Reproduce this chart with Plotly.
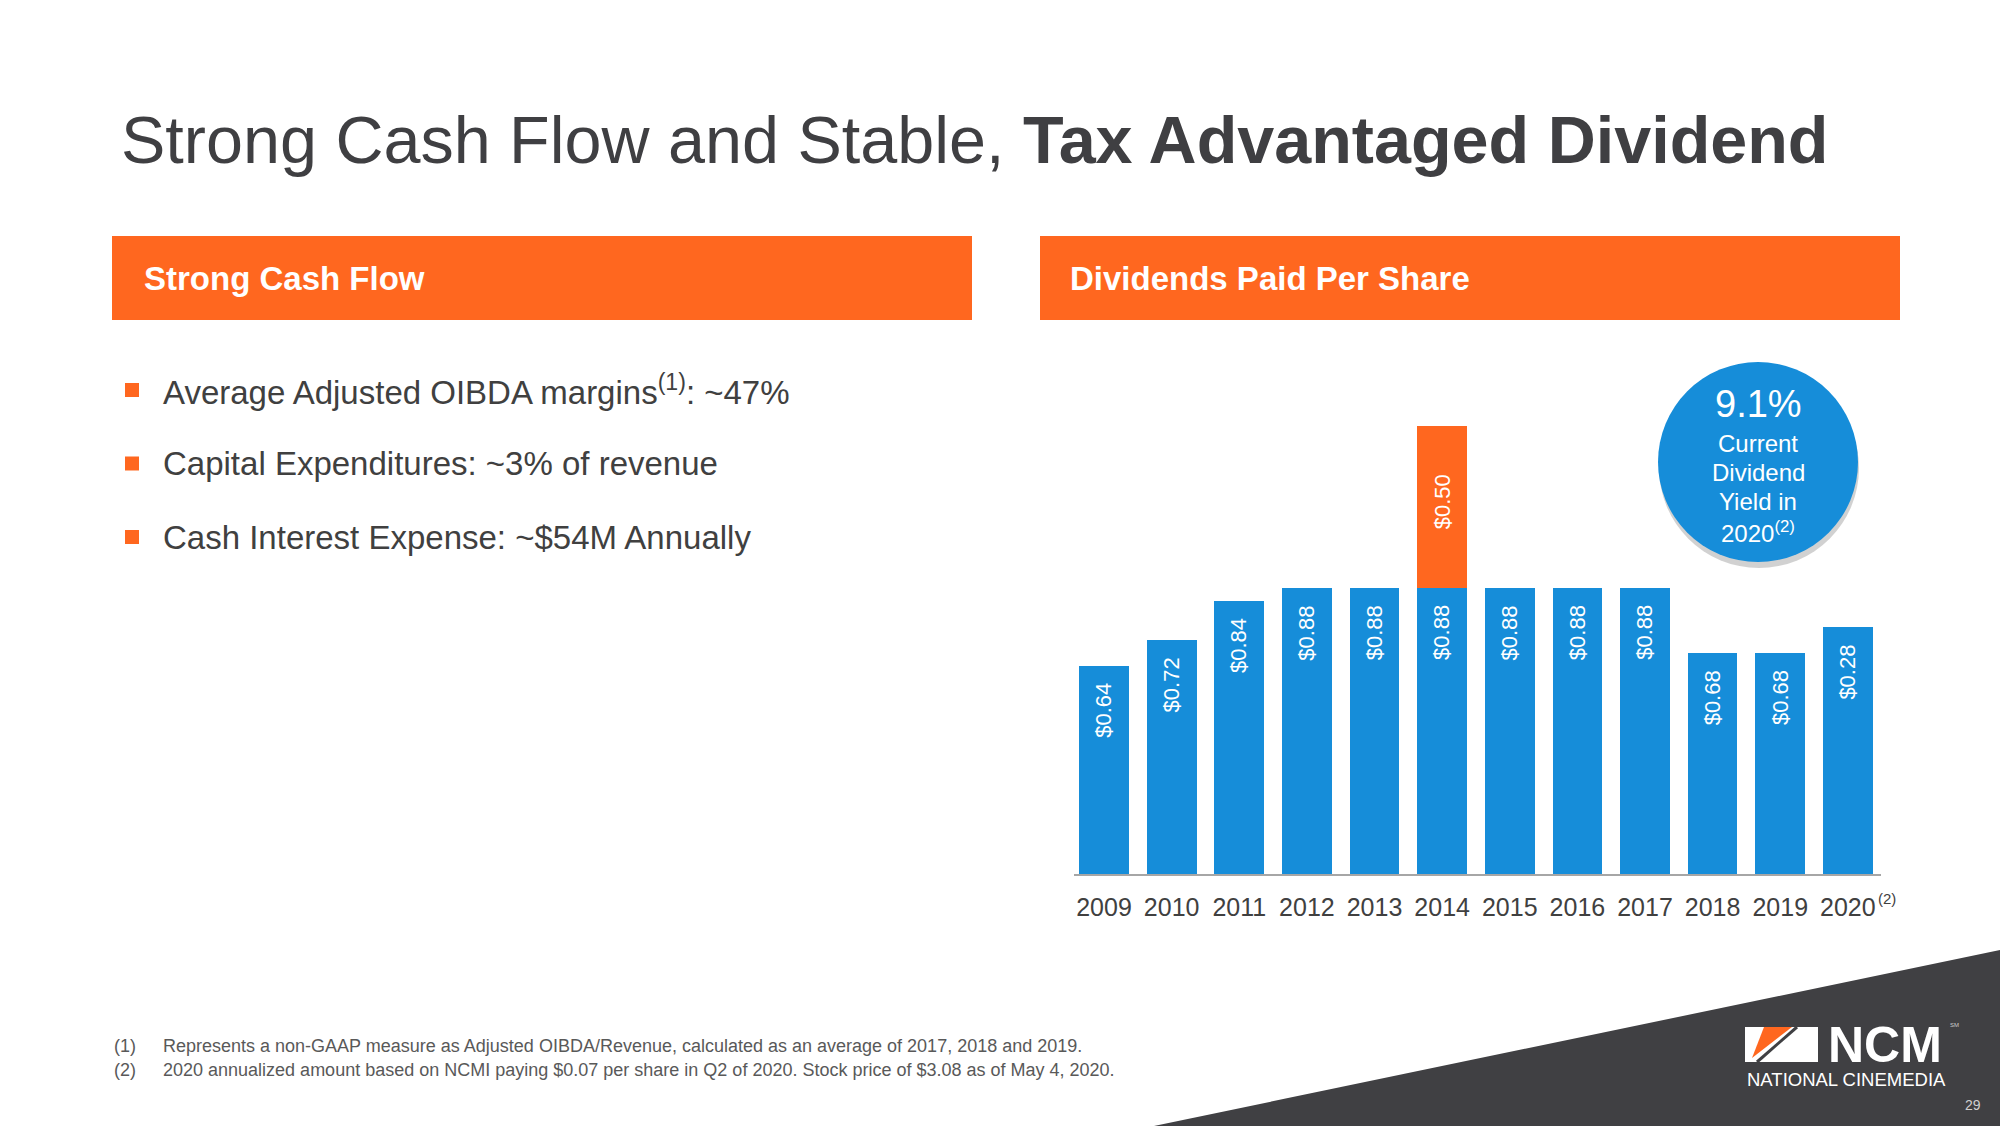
import plotly.graph_objects as go

# ---------------- data ----------------
years = ["2009", "2010", "2011", "2012", "2013", "2014", "2015", "2016", "2017", "2018", "2019", "2020"]
year_ticks = ["2009", "2010", "2011", "2012", "2013", "2014", "2015", "2016", "2017", "2018", "2019", "2020"]
year_note = "(2)"   # superscript note after the 2020 tick
regular_div = [0.64, 0.72, 0.84, 0.88, 0.88, 0.88, 0.88, 0.88, 0.88, 0.68, 0.68, 0.76]
regular_labels = ["$0.64", "$0.72", "$0.84", "$0.88", "$0.88", "$0.88", "$0.88", "$0.88", "$0.88", "$0.68", "$0.68", "$0.28"]
special_div = [None, None, None, None, None, 0.50, None, None, None, None, None, None]
special_labels = [None, None, None, None, None, "$0.50", None, None, None, None, None, None]

title_regular = "Strong Cash Flow and Stable, "
title_bold = "Tax Advantaged Dividend"
left_header = "Strong Cash Flow"
right_header = "Dividends Paid Per Share"
bullets = [
    "Average Adjusted OIBDA margins<sup>(1)</sup>: ~47%",
    "Capital Expenditures: ~3% of revenue",
    "Cash Interest Expense: ~$54M Annually",
]
footnotes = [
    ("(1)", "Represents a non-GAAP measure as Adjusted OIBDA/Revenue, calculated as an average of 2017, 2018 and 2019."),
    ("(2)", "2020 annualized amount based on NCMI paying $0.07 per share in Q2 of 2020. Stock price of $3.08 as of May 4, 2020."),
]
yield_value = "9.1%"
yield_lines = ["Current", "Dividend", "Yield in", "2020<sup>(2)</sup>"]

# ---------------- styling ----------------
W, H = 2000, 1126
FONT = "Liberation Sans, Arial, sans-serif"
BLUE = "#168DD9"
ORANGE = "#FF671F"
DARK = "#3F3F42"
TEXT = "#404040"
FOOT = "#595959"


def px(x):
    return x / W


def py(y):
    return 1 - y / H


fig = go.Figure()
fig.add_trace(go.Bar(x=years, y=regular_div, marker=dict(color=BLUE, line=dict(width=0)),
                     hoverinfo="skip", showlegend=False))
fig.add_trace(go.Bar(x=years, y=special_div, marker=dict(color=ORANGE, line=dict(width=0)),
                     hoverinfo="skip", showlegend=False))

annotations = []
shapes = []

# bar value labels (rotated, inside the bars near the top); x given as category index
for i, (v, lab) in enumerate(zip(regular_div, regular_labels)):
    annotations.append(dict(x=i, y=v, xref="x", yref="y", text=lab, textangle=-90,
                            yanchor="top", xanchor="center", yshift=-15, showarrow=False,
                            font=dict(family=FONT, size=22, color="white")))
for i, (base, v, lab) in enumerate(zip(regular_div, special_div, special_labels)):
    if v is not None:
        annotations.append(dict(x=i, y=base + v / 2, xref="x", yref="y", text=lab, textangle=-90,
                                yanchor="middle", xanchor="center", yshift=5, showarrow=False,
                                font=dict(family=FONT, size=22, color="white")))

# superscript note after the last year tick
annotations.append(dict(x=len(years) - 1, y=py(898), xref="x", yref="paper", text=year_note,
                        xanchor="left", yanchor="middle", xshift=28, showarrow=False,
                        font=dict(family=FONT, size=15, color=TEXT)))

# title
annotations.append(dict(x=px(119), y=py(140), xref="paper", yref="paper", xanchor="left", yanchor="middle",
                        text=title_regular + "<b>" + title_bold + "</b>", showarrow=False,
                        font=dict(family=FONT, size=66.5, color=DARK)))

# orange header bars
shapes.append(dict(type="rect", xref="paper", yref="paper", x0=px(112), x1=px(972), y0=py(320), y1=py(236),
                   fillcolor=ORANGE, line=dict(width=0), layer="below"))
shapes.append(dict(type="rect", xref="paper", yref="paper", x0=px(1040), x1=px(1900), y0=py(320), y1=py(236),
                   fillcolor=ORANGE, line=dict(width=0), layer="below"))
annotations.append(dict(x=px(142), y=py(279), xref="paper", yref="paper", xanchor="left", yanchor="middle",
                        text="<b>" + left_header + "</b>", showarrow=False,
                        font=dict(family=FONT, size=33, color="white")))
annotations.append(dict(x=px(1068), y=py(279), xref="paper", yref="paper", xanchor="left", yanchor="middle",
                        text="<b>" + right_header + "</b>", showarrow=False,
                        font=dict(family=FONT, size=33, color="white")))

# bullets
for i, b in enumerate(bullets):
    yc = 390 + i * 73.5
    shapes.append(dict(type="rect", xref="paper", yref="paper", x0=px(125), x1=px(139),
                       y0=py(yc + 7), y1=py(yc - 7), fillcolor=ORANGE, line=dict(width=0)))
    annotations.append(dict(x=px(161), y=py(yc), xref="paper", yref="paper", xanchor="left", yanchor="middle",
                            text=b, showarrow=False, font=dict(family=FONT, size=33, color=TEXT)))

# footnotes
for i, (n, t) in enumerate(footnotes):
    yc = 1046 + i * 24
    annotations.append(dict(x=px(112), y=py(yc), xref="paper", yref="paper", xanchor="left", yanchor="middle",
                            text=n, showarrow=False, font=dict(family=FONT, size=18, color=FOOT)))
    annotations.append(dict(x=px(161), y=py(yc), xref="paper", yref="paper", xanchor="left", yanchor="middle",
                            text=t, showarrow=False, font=dict(family=FONT, size=18, color=FOOT)))

# yield circle (shadow + circle)
cx, cy, r = 1758, 462, 100
shapes.append(dict(type="circle", xref="paper", yref="paper", x0=px(cx - r + 1), x1=px(cx + r + 1),
                   y0=py(cy + r + 6), y1=py(cy - r + 6), fillcolor="rgba(0,0,0,0.18)", line=dict(width=0)))
shapes.append(dict(type="circle", xref="paper", yref="paper", x0=px(cx - r), x1=px(cx + r),
                   y0=py(cy + r), y1=py(cy - r), fillcolor=BLUE, line=dict(width=0)))
annotations.append(dict(x=px(cx), y=py(404), xref="paper", yref="paper", xanchor="center", yanchor="middle",
                        text=yield_value, showarrow=False, font=dict(family=FONT, size=38, color="white")))
for i, t in enumerate(yield_lines):
    annotations.append(dict(x=px(cx), y=py(443 + i * 29.5), xref="paper", yref="paper", xanchor="center",
                            yanchor="middle", text=t, showarrow=False,
                            font=dict(family=FONT, size=24, color="white")))

# dark corner triangle
shapes.append(dict(type="path", xref="paper", yref="paper",
                   path=f"M {px(2000)} {py(950)} L {px(2000)} {py(1126)} L {px(1154)} {py(1126)} Z",
                   fillcolor="#404043", line=dict(width=0), layer="below"))

# NCM logo
shapes.append(dict(type="rect", xref="paper", yref="paper", x0=px(1745), x1=px(1818), y0=py(1062), y1=py(1027),
                   fillcolor="white", line=dict(width=0)))
shapes.append(dict(type="path", xref="paper", yref="paper",
                   path=f"M {px(1764)} {py(1027)} L {px(1792)} {py(1027)} L {px(1752)} {py(1058)} Z",
                   fillcolor=ORANGE, line=dict(width=0)))
shapes.append(dict(type="line", xref="paper", yref="paper", x0=px(1797), y0=py(1027), x1=px(1757), y1=py(1062),
                   line=dict(color="#404043", width=3)))
annotations.append(dict(x=px(1885), y=py(1045), xref="paper", yref="paper", xanchor="center", yanchor="middle",
                        text="<b>NCM</b>", showarrow=False, font=dict(family=FONT, size=50, color="white")))
annotations.append(dict(x=px(1948), y=py(1025), xref="paper", yref="paper", xanchor="left", yanchor="middle",
                        text="SM", showarrow=False, font=dict(family=FONT, size=6, color="#cccccc")))
annotations.append(dict(x=px(1846), y=py(1079), xref="paper", yref="paper", xanchor="center", yanchor="middle",
                        text="NATIONAL CINEMEDIA", showarrow=False, font=dict(family=FONT, size=18.5, color="white")))
annotations.append(dict(x=px(1973), y=py(1105), xref="paper", yref="paper", xanchor="center", yanchor="middle",
                        text="29", showarrow=False, font=dict(family=FONT, size=14, color="#d0d0d0")))

fig.update_layout(
    width=W, height=H, autosize=False,
    margin=dict(l=0, r=0, t=0, b=0),
    paper_bgcolor="white", plot_bgcolor="rgba(0,0,0,0)",
    barmode="stack", bargap=0.265,
    showlegend=False,
    xaxis=dict(type="category", domain=[px(1074), px(1881)], range=[-0.444, 11.49],
               tickvals=years, ticktext=year_ticks, tickangle=0, showline=True, linecolor="#A6A6A6",
               linewidth=2, showgrid=False, zeroline=False, ticks="", ticklabelstandoff=10,
               tickfont=dict(family=FONT, size=25, color=TEXT), fixedrange=True),
    yaxis=dict(range=[0, 1.5], domain=[py(874), py(387)], visible=False, fixedrange=True),
    annotations=annotations,
    shapes=shapes,
)

fig.write_html("out.html", config={"displayModeBar": False, "responsive": False},
               post_script="document.body.style.margin='0';document.body.style.overflow='hidden';")
